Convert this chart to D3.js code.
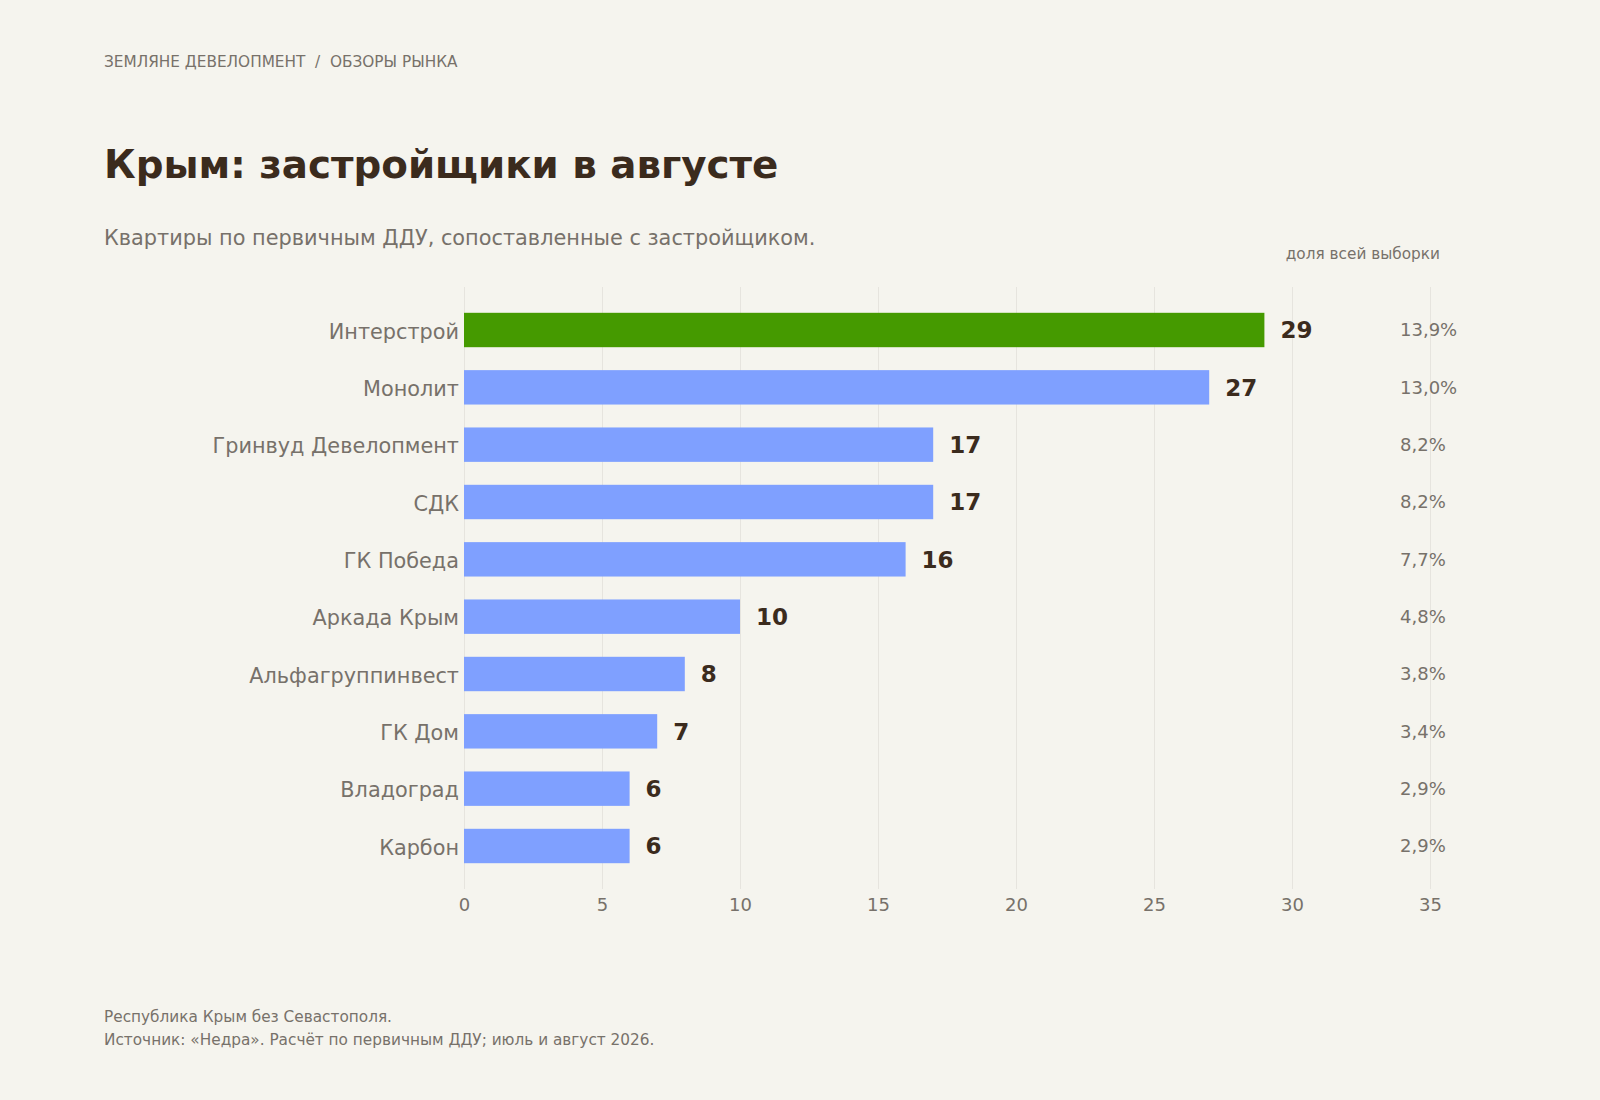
<!DOCTYPE html>
<html>
<head>
<meta charset="utf-8">
<script src="https://cdn.jsdelivr.net/npm/d3@7/dist/d3.min.js"></script>
<style>
  html, body { margin: 0; padding: 0; background: #f5f4ee; }
  svg { display: block; font-family: "DejaVu Sans", sans-serif; }
</style>
</head>
<body>
<svg id="chart" width="1600" height="1100"></svg>
<script>
const categories = ["Интерстрой", "Монолит", "Гринвуд Девелопмент", "СДК", "ГК Победа", "Аркада Крым", "Альфагруппинвест", "ГК Дом", "Владоград", "Карбон"];
const values = [29, 27, 17, 17, 16, 10, 8, 7, 6, 6];
const shares = ["13,9%", "13,0%", "8,2%", "8,2%", "7,7%", "4,8%", "3,8%", "3,4%", "2,9%", "2,9%"];
const highlight = "Интерстрой";
const xTicks = [0, 5, 10, 15, 20, 25, 30, 35];

const headerText = "ЗЕМЛЯНЕ ДЕВЕЛОПМЕНТ  /  ОБЗОРЫ РЫНКА";
const titleText = "Крым: застройщики в августе";
const subtitleText = "Квартиры по первичным ДДУ, сопоставленные с застройщиком.";
const shareHeader = "доля всей выборки";
const footnotes = ["Республика Крым без Севастополя.", "Источник: «Недра». Расчёт по первичным ДДУ; июль и август 2026."];

const data = categories.map((c, i) => ({ cat: c, value: values[i], share: shares[i] }));

const svg = d3.select("#chart");
const W = 1600, H = 1100;
svg.append("rect").attr("width", W).attr("height", H).attr("fill", "#f5f4ee");

const C = { dark: "#3b2b1d", gray: "#77716a", grid: "#e6e4de", blue: "#7fa0ff", green: "#459a00" };

const margin = { left: 464, right: 170, top: 287, bottom: 211 };
const x = d3.scaleLinear().domain([0, 35]).range([margin.left, W - margin.right]);
const y = d3.scaleBand().domain(categories).range([margin.top, H - margin.bottom]).paddingInner(0.4).paddingOuter(0.45);
const plotH = (H - margin.bottom) - margin.top;

// header texts
svg.append("text").attr("x", 104).attr("y", 67).attr("fill", C.gray).attr("font-size", 15.3)
  .style("white-space", "pre").attr("xml:space", "preserve").text(headerText);
svg.append("text").attr("x", 104).attr("y", 178).attr("fill", C.dark).attr("font-size", 38.8).attr("font-weight", "bold").text(titleText);
svg.append("text").attr("x", 104).attr("y", 245).attr("fill", C.gray).attr("font-size", 20.85).text(subtitleText);
svg.append("text").attr("x", 1440).attr("y", 259).attr("text-anchor", "end").attr("fill", C.gray).attr("font-size", 15.3).text(shareHeader);

// x axis with gridlines
const xAxis = svg.append("g").attr("transform", `translate(0,${H - margin.bottom})`)
  .call(d3.axisBottom(x).tickValues(xTicks).tickSize(-plotH).tickPadding(9).tickFormat(d3.format("d")));
xAxis.select(".domain").remove();
xAxis.selectAll(".tick line").attr("stroke", C.grid).attr("stroke-width", 1);
xAxis.selectAll(".tick text").attr("fill", C.gray).attr("font-size", 18).attr("font-family", "DejaVu Sans, sans-serif");

// y axis
const yAxis = svg.append("g").attr("transform", `translate(${margin.left},0)`)
  .call(d3.axisLeft(y).tickSize(0).tickPadding(5));
yAxis.select(".domain").remove();
yAxis.selectAll(".tick text").attr("fill", C.gray).attr("font-size", 20.8).attr("dy", "0.42em").attr("font-family", "DejaVu Sans, sans-serif");

// bars
svg.append("g").selectAll("rect").data(data).join("rect")
  .attr("x", x(0)).attr("y", d => y(d.cat))
  .attr("width", d => x(d.value) - x(0)).attr("height", y.bandwidth())
  .attr("fill", d => d.cat === highlight ? C.green : C.blue);

// value labels
svg.append("g").selectAll("text").data(data).join("text")
  .attr("x", d => x(d.value) + 16).attr("y", d => y(d.cat) + y.bandwidth() / 2)
  .attr("dy", "0.36em").attr("fill", C.dark).attr("font-size", 23).attr("font-weight", "bold")
  .text(d => d.value);

// share labels
svg.append("g").selectAll("text").data(data).join("text")
  .attr("x", 1400).attr("y", d => y(d.cat) + y.bandwidth() / 2)
  .attr("dy", "0.36em").attr("fill", C.gray).attr("font-size", 18)
  .text(d => d.share);

// footnotes
svg.append("g").selectAll("text").data(footnotes).join("text")
  .attr("x", 104).attr("y", (d, i) => 1022 + i * 23).attr("fill", C.gray).attr("font-size", 15.3).text(d => d);
</script>
</body>
</html>
